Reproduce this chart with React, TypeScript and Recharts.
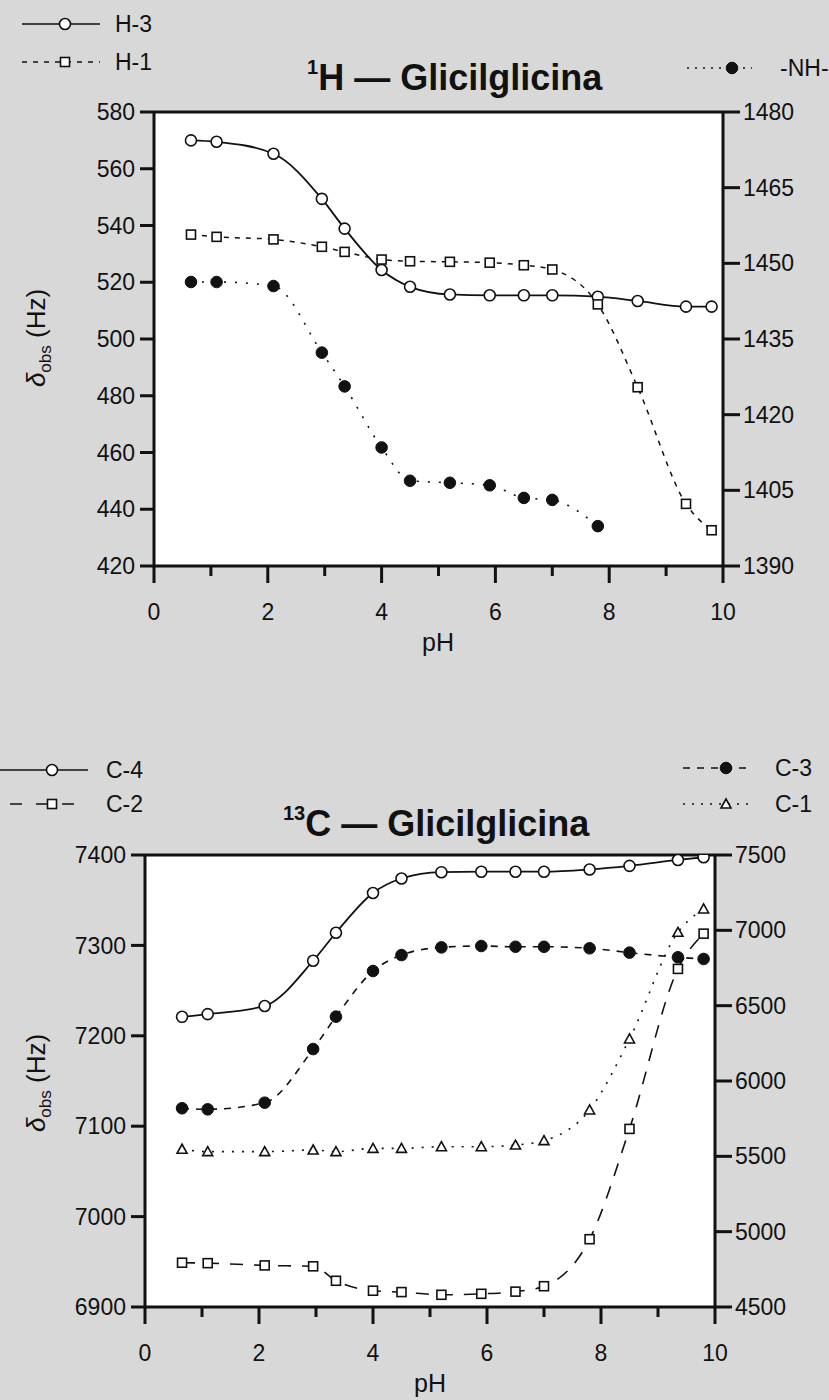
import React from 'react';
import { LineChart, Line, XAxis, YAxis, CartesianGrid, ReferenceLine } from 'recharts';

// pH values shared by every series
const ph = [0.65, 1.1, 2.1, 2.95, 3.35, 4.0, 4.5, 5.2, 5.9, 6.5, 7.0, 7.8, 8.5, 9.35, 9.8];

// 1H panel (left axis: H-3, H-1; right axis: -NH-)
const h3 = [570, 569.5, 565.3, 549.4, 538.9, 524.3, 518.4, 515.7, 515.4, 515.4, 515.4, 514.9, 513.4, 511.4, 511.4];
const h1 = [536.8, 536.0, 535.1, 532.5, 530.7, 528.0, 527.4, 527.2, 526.9, 526.0, 524.5, 512.2, 483.0, 441.9, 432.6];
const nh = [1446.3, 1446.3, 1445.5, 1432.3, 1425.6, 1413.5, 1406.9, 1406.5, 1406.0, 1403.5, 1403.1, 1397.9];

// 13C panel (left axis: C-4, C-2; right axis: C-3, C-1)
const c4 = [7221, 7224, 7233, 7283, 7314, 7358, 7374, 7381, 7381.5, 7381.5, 7381.5, 7384, 7388, 7394.5, 7397.5];
const c2 = [6949, 6948.5, 6946, 6945, 6929, 6918, 6916.5, 6913.5, 6914.6, 6917, 6923, 6975, 7097, 7274, 7313];
const c3 = [5819, 5812, 5856, 6212, 6427, 6730, 6836, 6887, 6896, 6891, 6891, 6881, 6852, 6821, 6810];
const c1 = [5547, 5531, 5531, 5542, 5531, 5553, 5553, 5564, 5564, 5575, 5604, 5808, 6279, 6987, 7142];

const phTicks = [0, 1, 2, 3, 4, 5, 6, 7, 8, 9, 10];
const hLeftTicks = [420, 440, 460, 480, 500, 520, 540, 560, 580];
const hRightTicks = [1390, 1405, 1420, 1435, 1450, 1465, 1480];
const cLeftTicks = [6900, 7000, 7100, 7200, 7300, 7400];
const cRightTicks = [4500, 5000, 5500, 6000, 6500, 7000, 7500];

const FONT = '"Liberation Sans", Arial, sans-serif';
const INK = '#111';

const toRows = (vals: number[]) => vals.map((v, i) => ({ ph: ph[i], v }));

type Shape = 'circle' | 'dot' | 'square' | 'triangle';

const mark = (shape: Shape, cx: number, cy: number, key?: string | number) => {
  if (shape === 'circle') return <circle key={key} cx={cx} cy={cy} r={5.5} fill="#fff" stroke={INK} strokeWidth={1.6} />;
  if (shape === 'dot') return <circle key={key} cx={cx} cy={cy} r={5.8} fill={INK} stroke={INK} strokeWidth={1} />;
  if (shape === 'square') return <rect key={key} x={cx - 4.5} y={cy - 4.5} width={9} height={9} fill="#fff" stroke={INK} strokeWidth={1.6} />;
  return <path key={key} d={`M${cx},${cy - 5} L${cx + 5},${cy + 4} L${cx - 5},${cy + 4} Z`} fill="#fff" stroke={INK} strokeWidth={1.6} />;
};

const XTick = (props: any) => {
  const { x, y, payload } = props;
  const major = payload.value % 2 === 0;
  return (
    <g>
      <line x1={x} x2={x} y1={y} y2={y + (major ? 17 : 10)} stroke={INK} strokeWidth={3} />
      {major && (
        <text x={x} y={y + 54} textAnchor="middle" fontSize={23} fontFamily={FONT} fill={INK}>
          {payload.value}
        </text>
      )}
    </g>
  );
};

const LegendItem = ({ x1, x2, mx, y, tx, dash, shape, label }: any) => (
  <g>
    <line x1={x1} x2={x2} y1={y} y2={y} stroke={INK} strokeWidth={1.6} strokeDasharray={dash} />
    {mark(shape, mx, y)}
    <text x={tx} y={y + 8} fontSize={23} fontFamily={FONT} fill={INK}>{label}</text>
  </g>
);

const YTitle = ({ x, y }: { x: number; y: number }) => (
  <text transform={`translate(${x},${y}) rotate(-90)`} textAnchor="middle" fontSize={26} fontFamily={FONT} fill={INK}>
    <tspan fontStyle="italic">δ</tspan>
    <tspan fontSize={17} dy={6}>obs</tspan>
    <tspan dy={-6}> (Hz)</tspan>
  </text>
);

type Series = { rows: { ph: number; v: number }[]; axis: 'L' | 'R'; dash?: string; shape: Shape; width: number; name: string };

const Panel = ({ top, height, margin, leftDomain, rightDomain, leftTicks, rightTicks, series, children }: any) => (
  <div style={{ position: 'absolute', left: 0, top, width: 829, height }}>
    <LineChart width={829} height={height} margin={margin}>
      <CartesianGrid fill="#fff" horizontal={false} vertical={false} stroke="none" />
      <XAxis
        type="number"
        dataKey="ph"
        domain={[0, 10]}
        ticks={phTicks}
        interval={0}
        height={60}
        tickSize={0}
        tickMargin={0}
        tickLine={false}
        axisLine={{ stroke: INK, strokeWidth: 3 }}
        tick={<XTick />}
      />
      <YAxis
        domain={leftDomain}
        ticks={leftTicks}
        interval={0}
        width={60}
        allowDataOverflow
        tickSize={14}
        tickMargin={5}
        axisLine={{ stroke: INK, strokeWidth: 3 }}
        tickLine={{ stroke: INK, strokeWidth: 3 }}
        tick={{ fontSize: 23, fill: INK, fontFamily: FONT }}
      />
      <YAxis
        yAxisId="R"
        orientation="right"
        domain={rightDomain}
        ticks={rightTicks}
        interval={0}
        width={80}
        allowDataOverflow
        tickSize={17}
        tickMargin={3}
        axisLine={{ stroke: INK, strokeWidth: 3 }}
        tickLine={{ stroke: INK, strokeWidth: 3 }}
        tick={{ fontSize: 23, fill: INK, fontFamily: FONT }}
      />
      <ReferenceLine y={leftDomain[1]} stroke={INK} strokeWidth={3} />
      {series.map((s: Series) => (
        <Line
          key={s.name}
          data={s.rows}
          dataKey="v"
          name={s.name}
          yAxisId={s.axis === 'R' ? 'R' : 0}
          type="monotone"
          stroke={INK}
          strokeWidth={s.width}
          strokeDasharray={s.dash}
          isAnimationActive={false}
          dot={(p: any) => mark(s.shape, p.cx, p.cy, `${s.name}-${p.index}`)}
          activeDot={false}
        />
      ))}
      {children}
    </LineChart>
  </div>
);

export default function App() {
  const hSeries: Series[] = [
    { rows: toRows(h3), axis: 'L', shape: 'circle', width: 1.8, name: 'H-3' },
    { rows: toRows(h1), axis: 'L', dash: '5 6', shape: 'square', width: 1.5, name: 'H-1' },
    { rows: toRows(nh), axis: 'R', dash: '2 9', shape: 'dot', width: 1.6, name: '-NH-' },
  ];
  const cSeries: Series[] = [
    { rows: toRows(c4), axis: 'L', shape: 'circle', width: 1.8, name: 'C-4' },
    { rows: toRows(c2), axis: 'L', dash: '13 11', shape: 'square', width: 1.6, name: 'C-2' },
    { rows: toRows(c3), axis: 'R', dash: '7 7', shape: 'dot', width: 1.6, name: 'C-3' },
    { rows: toRows(c1), axis: 'R', dash: '2 8', shape: 'triangle', width: 1.6, name: 'C-1' },
  ];

  return (
    <div style={{ position: 'absolute', left: 0, top: 0, width: 829, height: 1400, background: '#d8d8d8', overflow: 'hidden' }}>
      <Panel
        top={0}
        height={690}
        margin={{ top: 112, right: 26, left: 94, bottom: 64 }}
        leftDomain={[420, 580]}
        rightDomain={[1390, 1480]}
        leftTicks={hLeftTicks}
        rightTicks={hRightTicks}
        series={hSeries}
      >
        <g>
          <LegendItem x1={22} x2={100} mx={65} y={24} tx={115} shape="circle" label="H-3" />
          <LegendItem x1={22} x2={100} mx={65} y={62} tx={115} dash="5 6" shape="square" label="H-1" />
          <LegendItem x1={687} x2={752} mx={732} y={68} tx={780} dash="2 6" shape="dot" label="-NH-" />
          <text x={307} y={90} fontFamily={FONT} fontWeight="bold" fill={INK}>
            <tspan fontSize={20} dy={-16}>1</tspan>
            <tspan fontSize={36} dy={16}>H — Glicilglicina</tspan>
          </text>
          <YTitle x={45} y={338} />
          <text x={438} y={651} textAnchor="middle" fontSize={25} fontFamily={FONT} fill={INK}>pH</text>
        </g>
      </Panel>
      <Panel
        top={750}
        height={650}
        margin={{ top: 105, right: 34, left: 85, bottom: 33 }}
        leftDomain={[6900, 7400]}
        rightDomain={[4500, 7500]}
        leftTicks={cLeftTicks}
        rightTicks={cRightTicks}
        series={cSeries}
      >
        <g>
          <LegendItem x1={0} x2={88} mx={52} y={20} tx={106} shape="circle" label="C-4" />
          <LegendItem x1={10} x2={88} mx={52} y={54} tx={106} dash="12 14" shape="square" label="C-2" />
          <LegendItem x1={683} x2={752} mx={726} y={18} tx={775} dash="7 7" shape="dot" label="C-3" />
          <LegendItem x1={683} x2={752} mx={726} y={54} tx={775} dash="2 7" shape="triangle" label="C-1" />
          <text x={283} y={86} fontFamily={FONT} fontWeight="bold" fill={INK}>
            <tspan fontSize={20} dy={-16}>13</tspan>
            <tspan fontSize={36} dy={16}>C — Glicilglicina</tspan>
          </text>
          <YTitle x={45} y={333} />
          <text x={430} y={642} textAnchor="middle" fontSize={25} fontFamily={FONT} fill={INK}>pH</text>
        </g>
      </Panel>
    </div>
  );
}
